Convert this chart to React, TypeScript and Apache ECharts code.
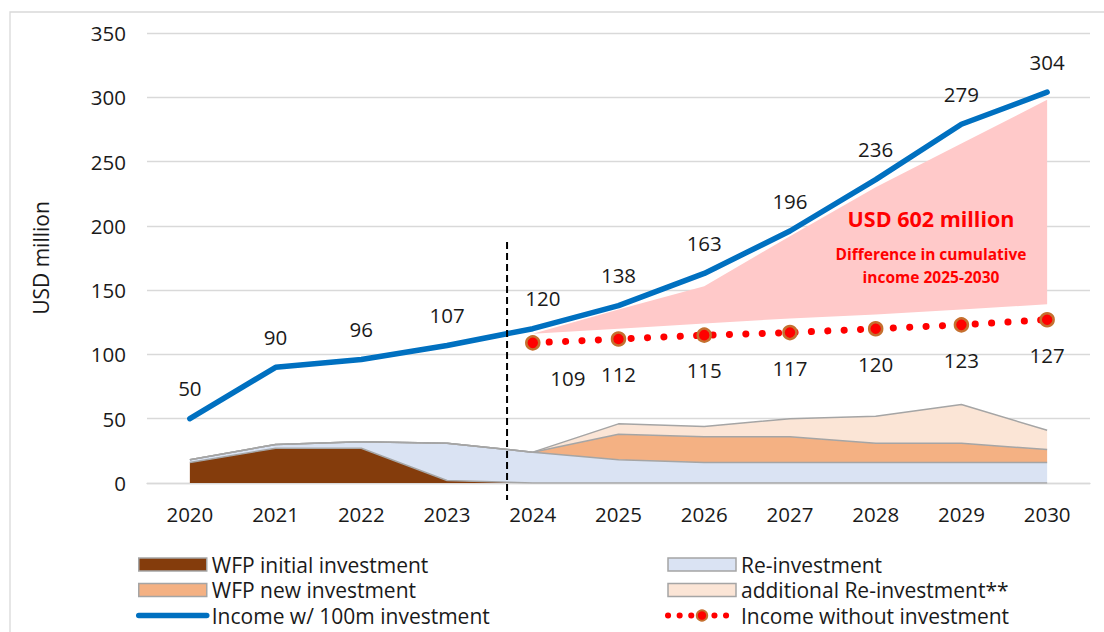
import React, { useEffect, useRef } from "react";
import * as echarts from "echarts";

const years = ["2020", "2021", "2022", "2023", "2024", "2025", "2026", "2027", "2028", "2029", "2030"];
const initialInvestment = [16, 27, 27, 2, 0, 0, 0, 0, 0, 0, 0];
const reInvestment = [2, 3, 5, 29, 24, 18, 16, 16, 16, 16, 16];
const newInvestment = [0, 0, 0, 0, 0, 20, 20, 20, 15, 15, 10];
const additionalReinvestment = [0, 0, 0, 0, 0, 8, 8, 14, 21, 30, 15];
const incomeWithInvestment = [50, 90, 96, 107, 120, 138, 163, 196, 236, 279, 304];
const incomeWithoutInvestment = [null, null, null, null, 109, 112, 115, 117, 120, 123, 127];
const gapLower = [null, null, null, null, 116, 120, 124, 128, 131, 135, 139];
const gapUpper = [null, null, null, null, 116, 135, 153, 192, 230, 264, 298];
const yTicks = { min: 0, max: 350, interval: 50 };

const FONT = "'Open Sans', 'Noto Sans', sans-serif";
const TXT = "#1a1a1a";
const BORDER = "#A5A5A5";
const LBL = 20.5;

export default function App() {
  const ref = useRef<HTMLDivElement>(null);
  useEffect(() => {
    document.body.style.margin = "0";
    const chart = echarts.init(ref.current!, null, { renderer: "svg" });
    const gapDiff = gapUpper.map((v, i) => (v == null || gapLower[i] == null ? null : v - (gapLower[i] as number)));
    const areaSeries = (name: string, data: number[], fill: string) => ({
      name,
      type: "line",
      stack: "inv",
      data,
      symbol: "none",
      itemStyle: { color: fill },
      lineStyle: { color: BORDER, width: 1.5 },
      areaStyle: { color: fill, opacity: 1 },
      emphasis: { disabled: true },
    });
    const legendBase = {
      top: 554,
      height: 100,
      padding: 0,
      orient: "vertical",
      itemWidth: 68,
      itemHeight: 13,
      itemGap: 4.5,
      textStyle: { color: TXT, fontSize: 21, fontFamily: FONT, lineHeight: 18 },
    };
    chart.setOption({
      animation: false,
      backgroundColor: "#fff",
      textStyle: { fontFamily: FONT },
      grid: { left: 147, right: 14, top: 33, bottom: 149 },
      xAxis: {
        type: "category",
        data: years,
        boundaryGap: true,
        axisLine: { lineStyle: { color: "#D9D9D9", width: 1.3 } },
        axisTick: { show: false },
        axisLabel: { color: TXT, fontSize: LBL, fontFamily: FONT, margin: 20 },
      },
      yAxis: {
        type: "value",
        ...yTicks,
        name: "USD million",
        nameLocation: "middle",
        nameGap: 96,
        nameTextStyle: { color: TXT, fontSize: 21, fontFamily: FONT },
        axisLine: { show: false },
        axisTick: { show: false },
        splitLine: { lineStyle: { color: "#D9D9D9", width: 1.3 } },
        axisLabel: { color: TXT, fontSize: LBL, fontFamily: FONT, margin: 21 },
      },
      legend: [
        {
          ...legendBase,
          left: 136,
          data: [
            { name: "WFP initial investment", icon: "rect", itemStyle: { color: "#843C0C", borderColor: BORDER, borderWidth: 1.5 } },
            { name: "WFP new investment", icon: "rect", itemStyle: { color: "#F4B183", borderColor: BORDER, borderWidth: 1.5 } },
            { name: "Income w/ 100m investment", lineStyle: { color: "#0070C0", width: 5.5, cap: "round" } },
          ],
        },
        {
          ...legendBase,
          left: 665,
          data: [
            { name: "Re-investment", icon: "rect", itemStyle: { color: "#DAE3F3", borderColor: BORDER, borderWidth: 1.5 } },
            { name: "additional Re-investment**", icon: "rect", itemStyle: { color: "#FBE5D6", borderColor: BORDER, borderWidth: 1.5 } },
            { name: "Income without investment", lineStyle: { color: "#FF0000", width: 6, type: [0.1, 11.5], cap: "round" } },
          ],
        },
      ],
      series: [
        {
          name: "gapBase",
          type: "line",
          stack: "gap",
          data: gapLower,
          symbol: "none",
          lineStyle: { width: 0, opacity: 0 },
          emphasis: { disabled: true },
        },
        {
          name: "gapArea",
          type: "line",
          stack: "gap",
          data: gapDiff,
          symbol: "none",
          lineStyle: { width: 0, opacity: 0 },
          areaStyle: { color: "#FFC9C9", opacity: 1 },
          emphasis: { disabled: true },
        },
        areaSeries("WFP initial investment", initialInvestment, "#843C0C"),
        areaSeries("Re-investment", reInvestment, "#DAE3F3"),
        areaSeries("WFP new investment", newInvestment, "#F4B183"),
        areaSeries("additional Re-investment**", additionalReinvestment, "#FBE5D6"),
        {
          name: "Income w/ 100m investment",
          type: "line",
          data: incomeWithInvestment.map((v, i) => (i === 4 ? { value: v, label: { offset: [10, 0] } } : v)),
          symbol: "circle",
          symbolSize: 2,
          itemStyle: { color: "rgba(0,0,0,0)" },
          lineStyle: { color: "#0070C0", width: 5.5, cap: "round" },
          label: { show: true, position: "top", distance: 19, color: TXT, fontSize: LBL, fontFamily: FONT },
          emphasis: { disabled: true },
          z: 5,
        },
        {
          name: "Income without investment",
          type: "line",
          data: incomeWithoutInvestment.map((v, i) => (i === 4 ? { value: v, label: { offset: [35, 0] } } : v)),
          symbol: "circle",
          symbolSize: 13,
          itemStyle: { color: "#FF0000", borderColor: "#C5702F", borderWidth: 2.5 },
          lineStyle: { color: "#FF0000", width: 7, type: [0.1, 16.3], cap: "round" },
          label: { show: true, position: "bottom", distance: 17, color: TXT, fontSize: LBL, fontFamily: FONT },
          emphasis: { disabled: true },
          z: 6,
        },
      ],
    });
    const x23 = chart.convertToPixel({ xAxisIndex: 0 }, "2023") as number;
    const x24 = chart.convertToPixel({ xAxisIndex: 0 }, "2024") as number;
    const xd = x23 + 0.7 * (x24 - x23);
    chart.setOption({
      graphic: [
        {
          type: "rect",
          shape: { x: 10, y: 12, width: 1100, height: 640 },
          style: { fill: "none", stroke: "#D9D9D9", lineWidth: 1.3 },
          silent: true,
          z: -10,
        },
        {
          type: "line",
          shape: { x1: xd, y1: 242, x2: xd, y2: 500 },
          style: { stroke: "#000", lineWidth: 2, lineDash: [7, 4] },
          z: 10,
        },
        {
          type: "text",
          x: 931,
          y: 218,
          style: { text: "USD 602 million", fill: "#FF0000", font: `bold 21.5px ${FONT}`, textAlign: "center", textVerticalAlign: "middle" },
          z: 10,
        },
        {
          type: "text",
          x: 931,
          y: 265.5,
          style: {
            text: "Difference in cumulative\nincome 2025-2030",
            fill: "#FF0000",
            font: `bold 15.5px ${FONT}`,
            lineHeight: 23,
            textAlign: "center",
            textVerticalAlign: "middle",
          },
          z: 10,
        },
      ],
    });
    return () => chart.dispose();
  }, []);
  return <div ref={ref} style={{ width: 1104, height: 632 }} />;
}
